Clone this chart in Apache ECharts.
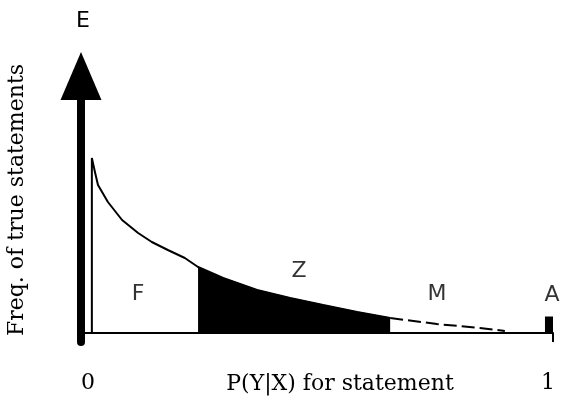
<!DOCTYPE html>
<html>
<head>
<meta charset="utf-8">
<script src="https://cdn.jsdelivr.net/npm/echarts@6/dist/echarts.min.js"></script>
<style>
html,body{margin:0;padding:0;background:#fff;}
#chart{width:565px;height:398px;}
</style>
</head>
<body>
<div id="chart"></div>
<script>
// Curve (solid part, with left vertical edge), x in [0,1], y in arbitrary frequency units
var curveX = [0.023, 0.023, 0.030, 0.036, 0.057, 0.087, 0.121, 0.150, 0.184, 0.220, 0.248, 0.301, 0.373, 0.443, 0.513, 0.585, 0.655];
var curveY = [0.00, 1.75, 1.60, 1.48, 1.31, 1.13, 1.00, 0.91, 0.83, 0.75, 0.66, 0.55, 0.43, 0.35, 0.28, 0.21, 0.15];
// Filled region Z
var fillX = [0.248, 0.301, 0.373, 0.443, 0.513, 0.585, 0.655];
var fillY = [0.66, 0.55, 0.43, 0.35, 0.28, 0.21, 0.15];
// Dashed tail M
var tailX = [0.655, 0.754, 0.845, 0.898];
var tailY = [0.15, 0.09, 0.05, 0.02];
// Block A
var blockX = [0.983, 1.0];
var blockY = [0.16, 0.16];
// Region labels
var regionNames = ['F', 'Z', 'M', 'A'];
var regionX = [0.121, 0.462, 0.754, 0.998];
var regionY = [0.39, 0.62, 0.39, 0.38];
// Tick labels
var xTickLabels = ['0', '1'];

function pairs(xs, ys) { return xs.map(function (x, i) { return [x, ys[i]]; }); }

var serif = 'DejaVu Serif';
var sans = 'DejaVu Sans';
var chart = echarts.init(document.getElementById('chart'), null, {renderer: 'canvas'});
chart.setOption({
  animation: false,
  backgroundColor: '#ffffff',
  grid: {left: 81, right: 12, top: 76, bottom: 56, containLabel: false, outerBoundsMode: 'none'},
  xAxis: {
    type: 'value', min: 0, max: 1, interval: 1,
    name: 'P(Y|X) for statement', nameLocation: 'middle', nameGap: 31, nameMoveOverlap: false,
    nameTextStyle: {fontFamily: serif, fontSize: 22, color: '#000', padding: [0, 0, 0, 46]},
    axisLine: {show: true, onZero: true, lineStyle: {color: '#000', width: 2}},
    axisTick: {show: true, length: 9, lineStyle: {color: '#000', width: 2}},
    splitLine: {show: false},
    axisLabel: {
      margin: 30, fontFamily: serif, fontSize: 22, color: '#000',
      formatter: function (v) { return v === 0 ? '{a|' + xTickLabels[0] + '}' : '{b|' + xTickLabels[1] + '}'; },
      rich: {
        a: {fontFamily: serif, fontSize: 22, color: '#000', padding: [0, 0, 0, 14]},
        b: {fontFamily: serif, fontSize: 22, color: '#000', padding: [0, 10, 0, 0]}
      }
    }
  },
  yAxis: [{
    type: 'value', min: -0.09, max: 2.57,
    name: 'E', nameLocation: 'end', nameGap: 44,
    nameTextStyle: {fontFamily: sans, fontSize: 22, color: '#000', padding: [0, 0, 0, 4]},
    axisLine: {show: true, symbol: ['none', 'triangle'], symbolSize: [41, 48], lineStyle: {color: '#000', width: 8}},
    axisTick: {show: false}, axisLabel: {show: false}, splitLine: {show: false}
  }, {
    type: 'value', min: -0.09, max: 2.57, position: 'left',
    name: 'Freq. of true statements', nameLocation: 'middle', nameRotate: 90, nameGap: 53,
    nameTextStyle: {fontFamily: serif, fontSize: 22, color: '#000', padding: [0, 0, 0, 18]},
    axisLine: {show: false}, axisTick: {show: false}, axisLabel: {show: false}, splitLine: {show: false}
  }],
  series: [{
    type: 'line', data: pairs(fillX, fillY), symbol: 'none', silent: true,
    lineStyle: {color: '#000', width: 1}, areaStyle: {color: '#000', opacity: 1}, z: 2
  }, {
    type: 'line', data: pairs(curveX, curveY), symbol: 'none', silent: true, smooth: false,
    lineStyle: {color: '#000', width: 2}, z: 3
  }, {
    type: 'line', data: pairs(tailX, tailY), symbol: 'none', silent: true,
    lineStyle: {color: '#000', width: 2, type: [13, 5]}, z: 3
  }, {
    type: 'line', data: pairs(blockX, blockY), symbol: 'none', silent: true,
    lineStyle: {color: '#000', width: 1}, areaStyle: {color: '#000', opacity: 1}, z: 2
  }, {
    type: 'scatter', clip: false, symbolSize: 0, silent: true,
    data: regionNames.map(function (n, i) { return {name: n, value: [regionX[i], regionY[i]]}; }),
    label: {show: true, position: 'inside', formatter: '{b}', fontFamily: sans, fontSize: 22, color: '#000'},
    z: 4
  }]
});
</script>
</body>
</html>
